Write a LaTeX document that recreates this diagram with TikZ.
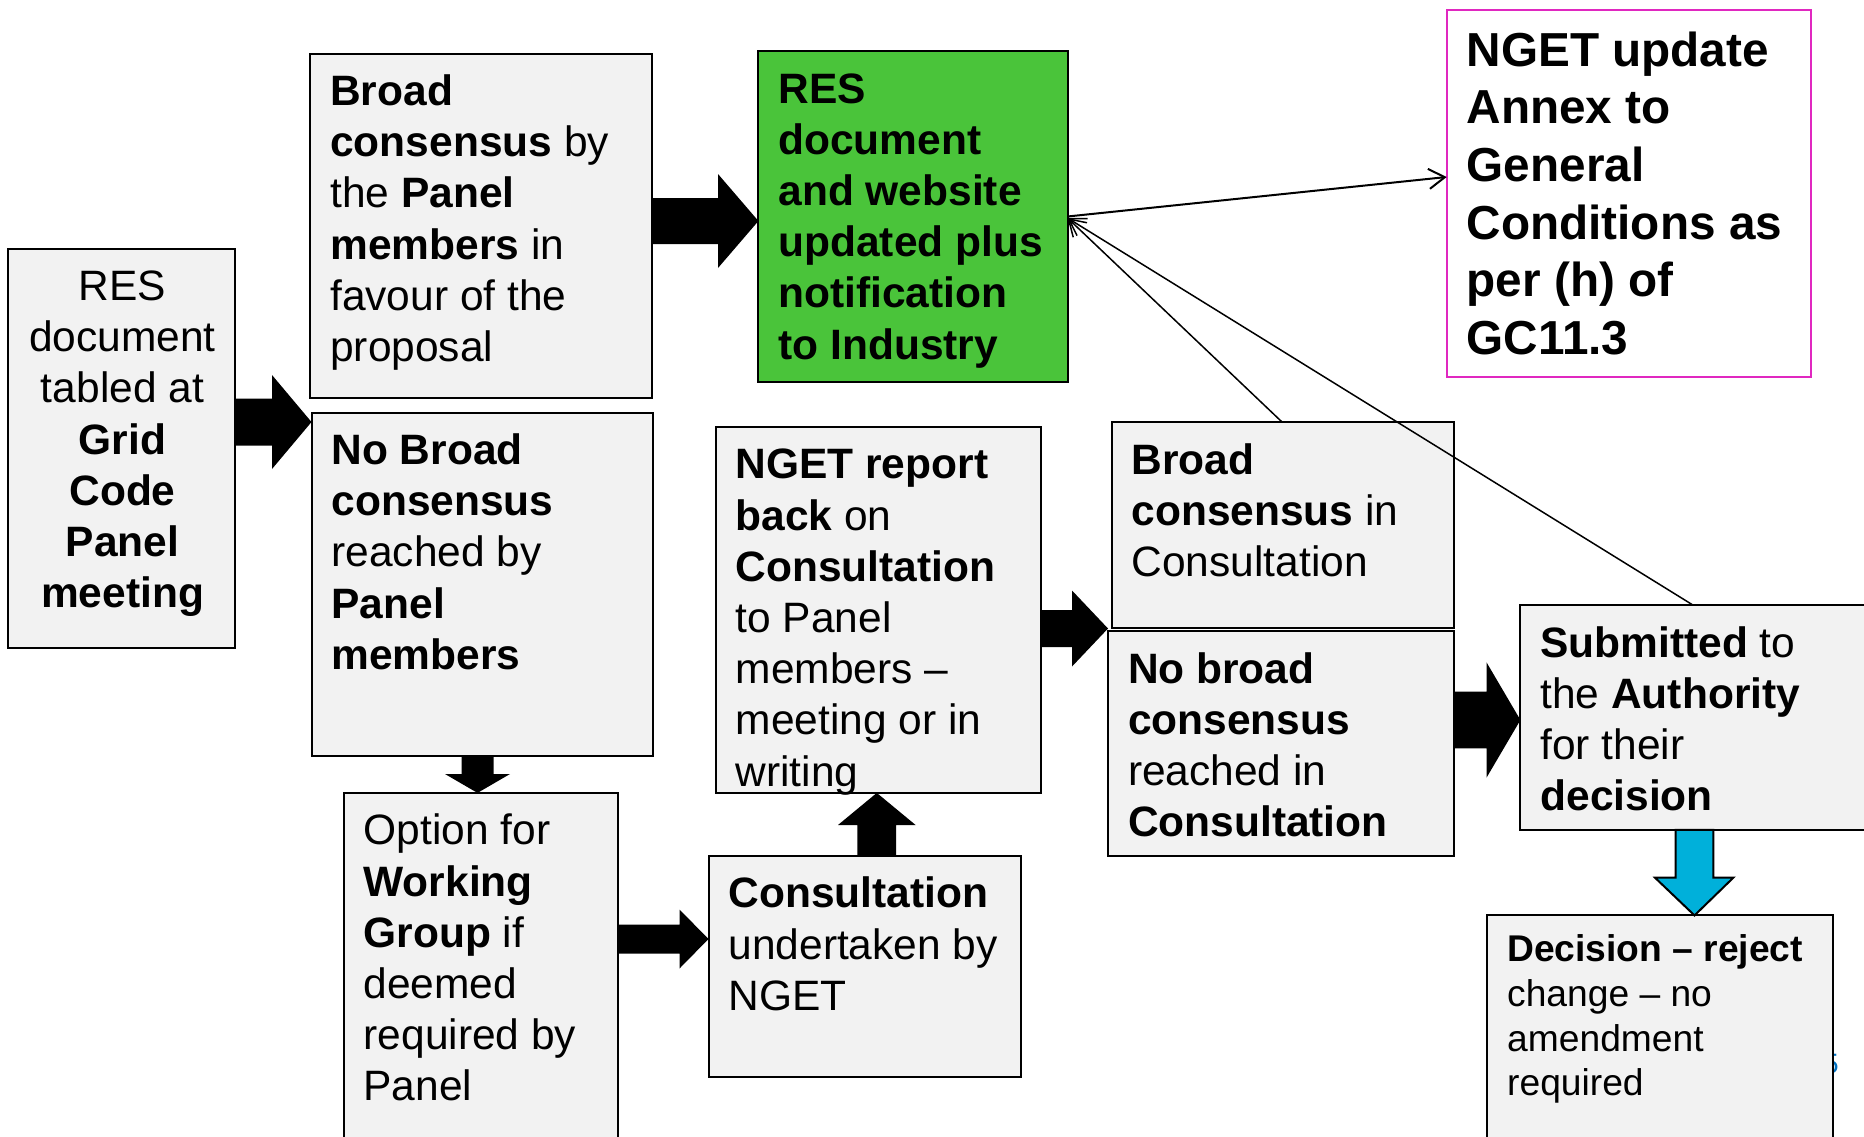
\documentclass[tikz,border=0pt]{standalone}
\usepackage{fontspec}
\setmainfont{Liberation Sans}
\usetikzlibrary{arrows.meta}
\definecolor{boxgray}{RGB}{242,242,242}
\definecolor{resgreen}{RGB}{74,196,58}
\definecolor{annexpink}{RGB}{224,40,192}
\definecolor{arrowblue}{RGB}{0,176,218}
\definecolor{fragblue}{RGB}{0,112,192}
\newcommand\fa{\fontsize{42.5}{51.2}\selectfont}
\newcommand\fe{\fontsize{47.7}{57.7}\selectfont}
\newcommand\fl{\fontsize{37.2}{44.7}\selectfont}
\newcommand\firststrut{\rule{0pt}{40pt}}
\begin{document}
\begin{tikzpicture}[x=1pt,y=-1pt,
  box/.style={draw=black, line width=2pt, fill=boxgray, rectangle, inner sep=0pt, outer sep=0pt, anchor=north west},
  txt/.style={inner sep=0pt, outer sep=0pt, align=left, anchor=north west, font=\fa},
  blockarrow/.style={fill=black},
  thinarrow/.style={draw=black, line width=1.5pt, -{Straight Barb[length=16pt,width=20pt]}}]
\clip (0,0) rectangle (1864,1136);
\fill[white] (0,0) rectangle (1864,1136);

% boxes
\node[box, minimum width=227.1pt, minimum height=399.4pt] (A) at (8.3,248.5) {};
\node[box, minimum width=341.2pt, minimum height=344.7pt] (B) at (310.3,53.5) {};
\node[box, minimum width=341.1pt, minimum height=343.6pt] (C) at (311.5,412.5) {};
\node[box, fill=resgreen, minimum width=309.1pt, minimum height=330.5pt] (D) at (758.4,51.1) {};
\node[box, draw=annexpink, fill=white, minimum width=363.8pt, minimum height=367.3pt] (E) at (1446.7,9.5) {};
\node[box, minimum width=325.8pt, minimum height=366.1pt] (F) at (715.6,426.8) {};
\node[box, minimum width=274.6pt, minimum height=360pt] (G) at (343.6,792.9) {};
\node[box, minimum width=312.7pt, minimum height=221.1pt] (H) at (708.5,855.9) {};
\node[box, minimum width=342.4pt, minimum height=205.7pt] (I) at (1111.5,422.0) {};
\node[box, minimum width=345.9pt, minimum height=224.7pt] (J) at (1108.0,631.2) {};
\node[box, minimum width=360pt, minimum height=224.7pt] (K) at (1520.4,605.1) {};
\node[inner sep=0pt, anchor=base east, font=\fontsize{28}{30}\selectfont, text=fragblue] (frag) at (1839,1073) {5};
\node[box, minimum width=345.9pt, minimum height=240pt] (L) at (1487.2,915.4) {};

% texts
\node[txt, align=center, anchor=north] (At) at (122.5,260.5) {\firststrut RES\\document\\tabled at\\\textbf{Grid}\\\textbf{Code}\\\textbf{Panel}\\\textbf{meeting}};
\node[txt] (Bt) at (330.3,65.5) {\firststrut\textbf{Broad}\\\textbf{consensus} by\\the \textbf{Panel}\\\textbf{members} in\\favour of the\\proposal};
\node[txt] (Ct) at (331.5,424.5) {\firststrut\textbf{No Broad}\\\textbf{consensus}\\reached by\\\textbf{Panel}\\\textbf{members}};
\node[txt, font=\fa\bfseries] (Dt) at (778.4,63.1) {\firststrut RES\\document\\and website\\updated plus\\notification\\to Industry};
\node[txt, font=\fe\bfseries] (Et) at (1466.7,26) {\firststrut NGET update\\Annex to\\General\\Conditions as\\per (h) of\\GC11.3};
\node[txt] (Ft) at (735.6,438.8) {\firststrut\textbf{NGET report}\\\textbf{back} on\\\textbf{Consultation}\\to Panel\\members –\\meeting or in\\writing};
\node[txt] (Gt) at (363.6,804.9) {\firststrut Option for\\\textbf{Working}\\\textbf{Group} if\\deemed\\required by\\Panel};
\node[txt] (Ht) at (728.5,867.9) {\firststrut\textbf{Consultation}\\undertaken by\\NGET};
\node[txt] (It) at (1131.5,434.0) {\firststrut\textbf{Broad}\\\textbf{consensus} in\\Consultation};
\node[txt] (Jt) at (1128.0,643.2) {\firststrut\textbf{No broad}\\\textbf{consensus}\\reached in\\\textbf{Consultation}};
\node[txt] (Kt) at (1540.4,617.1) {\firststrut\textbf{Submitted} to\\the \textbf{Authority}\\for their\\\textbf{decision}};
\node[txt, font=\fl] (Lt) at (1507.2,921.8) {\firststrut\textbf{Decision – reject}\\change – no\\amendment\\required};

% block arrows
\fill[blockarrow] (A.east |- 0,398.5) -- (272,398.5) -- (272,375) -- (C.west |- 0,422) -- (272,469) -- (272,445.5) -- (A.east |- 0,445.5) -- cycle;
\fill[blockarrow] (B.east |- 0,198) -- (718,198) -- (718,174) -- (D.west |- 0,221) -- (718,268) -- (718,244) -- (B.east |- 0,244) -- cycle;
\fill[blockarrow] (C.south -| 461.5,0) -- (461.5,774) -- (445,774) -- (G.north -| 477.5,0) -- (510,774) -- (493.5,774) -- (C.south -| 493.5,0) -- cycle;
\fill[blockarrow] (G.east |- 0,924.5) -- (679.5,924.5) -- (679.5,909.5) -- (H.west |- 0,939) -- (679.5,968.5) -- (679.5,953.5) -- (G.east |- 0,953.5) -- cycle;
\fill[blockarrow] (H.north -| 857.4,0) -- (857.4,825) -- (838,825) -- (F.south -| 876.8,0) -- (915.6,825) -- (896.2,825) -- (H.north -| 896.2,0) -- cycle;
\fill[blockarrow] (F.east |- 0,610) -- (1072,610) -- (1072,590.5) -- (J.west |- 0,628.5) -- (1072,666.5) -- (1072,647) -- (F.east |- 0,647) -- cycle;
\fill[blockarrow] (J.east |- 0,691.7) -- (1486.5,691.7) -- (1486.5,662.3) -- (K.west |- 0,720) -- (1486.5,777.7) -- (1486.5,748.3) -- (J.east |- 0,748.3) -- cycle;
\draw[line width=2pt, fill=arrowblue, line join=miter] (K.south -| 1675.7,0) -- (1675.7,877.7) -- (1655,877.7) -- (L.north -| 1694.5,0) -- (1733.3,877.7) -- (1713.3,877.7) -- (K.south -| 1713.3,0) -- cycle;

% thin arrows
\draw[thinarrow, line width=2pt] (D.east |- 0,216.5) -- (E.west |- 0,177);
\draw[thinarrow] (I.north -| 1282,0) -- (D.east |- 0,218);
\draw[thinarrow] (K.north -| 1693,0) -- (D.east |- 0,218);
\end{tikzpicture}
\end{document}
